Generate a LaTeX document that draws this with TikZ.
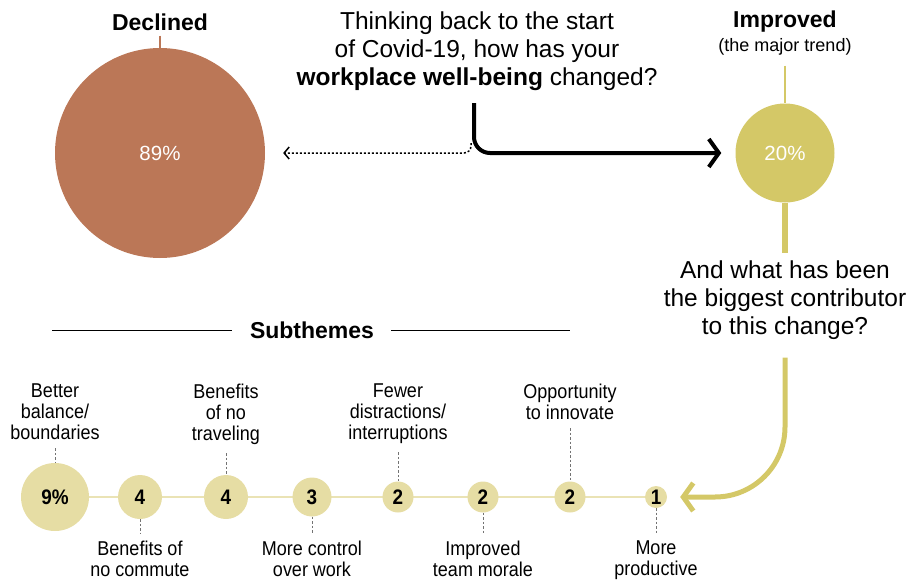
\documentclass[tikz,border=0pt]{standalone}
\usepackage{fontspec}
\setmainfont{Liberation Sans}
\newfontfamily\condfont[FakeStretch=0.9]{Liberation Sans}
\usetikzlibrary{arrows.meta,backgrounds}

\begin{document}
\begin{tikzpicture}[x=1pt,y=-1pt,
  mynode/.style={circle,inner sep=0,text=white,font=\fontsize{20.5}{22}\selectfont},
  mydot/.style={circle,inner sep=0,fill=pale,font=\condfont\bfseries\fontsize{21}{22}\selectfont},
  mytext/.style={align=center,inner sep=0,font=\condfont\fontsize{20}{21}\selectfont},
  myask/.style={align=center,inner sep=0,font=\fontsize{24.5}{28}\selectfont},
  myhead/.style={inner sep=0,font=\bfseries\fontsize{23}{26}\selectfont},
  mylead/.style={black!55,dash pattern=on 2.5pt off 2pt,line width=0.7pt}]
\definecolor{rust}{HTML}{BB7757}
\definecolor{mustard}{HTML}{D4C867}
\definecolor{pale}{HTML}{E6DDA4}
\definecolor{paleline}{HTML}{EAE3B5}
\useasboundingbox (0,0) rectangle (919,581);

\node [myhead] (declhead) at (160,22) {Declined};
\node [mynode,fill=rust,minimum size=210] (decl) at (160,153) {89\%};
\node [myhead] (imprhead) at (785,22) {Improved};
\node [inner sep=0,font=\fontsize{18}{20}\selectfont] (trend) at (785,47) {(the major trend)};
\node [mynode,fill=mustard,minimum size=99] (impr) at (785,153) {20\%};
\node [myask] (ask) at (477,51) {Thinking back to the start\\of Covid-19, how has your\\\textbf{workplace well-being} changed?};
\node [myask] (ask2) at (785,300) {And what has been\\the biggest contributor\\to this change?};
\node [myhead] (sub) at (312,330) {Subthemes};

\coordinate (ruleL) at (52,330);
\coordinate (ruleR) at (570,330);
\coordinate (split) at (474,103);
\coordinate (dotstart) at (471,143);

\draw [line width=0.9pt] (ruleL) -- ([xshift=-18pt]sub.west);
\draw [line width=0.9pt] ([xshift=17pt]sub.east) -- (ruleR);

\draw [rust,line width=1.5pt,shorten <=5pt] (declhead) -- (decl);
\draw [mustard,line width=2pt,shorten <=10pt] (trend) -- (impr);
\draw [mustard,line width=6pt,shorten >=7pt] (impr) -- (ask2);

\draw [line width=4pt,rounded corners=16,-{Straight Barb[length=10pt,width=28pt]},shorten >=14pt] (split) |- (impr.west);
\draw [line width=1.5pt,dash pattern=on 2pt off 2pt,rounded corners=7,-{Straight Barb[length=5pt,width=12pt]},shorten >=18pt] (dotstart) |- (decl.east);

\foreach \num/\xpos/\rad/\val in {1/55/34/9\%,2/140/22/4,3/226/22/4,4/312/19.5/3,5/398/15.5/2,6/483/15.5/2,7/570/15.5/2,8/656/11/1}
  {\node [mydot,minimum size=2*\rad] (s\num) at (\xpos,497) {\val};}
\begin{scope}[on background layer]
\draw [paleline,line width=1.5pt] (s1) -- (s8);
\end{scope}

\draw [mustard,line width=5pt,rounded corners=70,shorten <=18pt,-{Straight Barb[length=10pt,width=28pt]},shorten >=13pt] (ask2.south) |- (s8.east);

\foreach \num/\txt in {1/{Better\\balance/\\boundaries},3/{Benefits\\of no\\traveling},5/{Fewer\\distractions/\\interruptions},7/{Opportunity\\to innovate}}
  {\node [mytext,anchor=north] (l\num) at (s\num |- 0,384) {\txt};
   \draw [mylead,shorten <=8pt] (s\num |- l\num.south) -- (s\num);}
\foreach \num/\txt in {2/{Benefits of\\no commute},4/{More control\\over work},6/{Improved\\team morale},8/{More\\productive}}
  {\node [mytext,anchor=north] (l\num) at (s\num |- 0,541) {\txt};
   \draw [mylead,shorten >=8pt] (s\num) -- (s\num |- l\num.north);}
\end{tikzpicture}
\end{document}
